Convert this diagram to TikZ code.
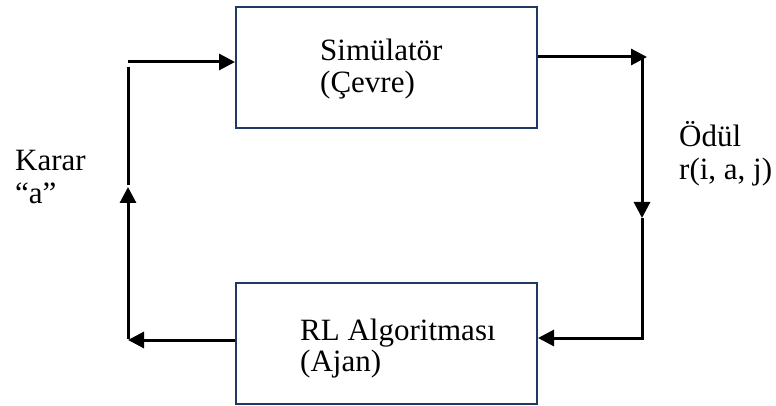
\documentclass[tikz,border=0pt]{standalone}
\usepackage{fontspec}
\setmainfont{Liberation Serif}
\usetikzlibrary{arrows.meta}
\definecolor{boxedge}{RGB}{31,56,100}
\begin{document}
\begin{tikzpicture}[x=1pt,y=-1pt,
  block/.style={draw=boxedge,line width=2pt,minimum width=301pt,minimum height=121pt,inner sep=0pt},
  wire/.style={line width=3pt},
  flow/.style={wire,-{Triangle[length=16pt,width=16pt]}},
  lbl/.style={font=\fontsize{31}{35}\selectfont,inner sep=0pt,anchor=base west}]
\useasboundingbox (0,0) rectangle (776,406);

% the two blocks
\node[block] (sim) at (386.5,67.5) {};
\node[block] (agent) at (386.5,343.5) {};

% block texts
\node[lbl] (simA) at (320,61) {Simülatör};
\node[lbl] (simB) at (320,93) {(Çevre)};
\node[lbl] (agA) at (300,340) {RL Algoritması};
\node[lbl] (agB) at (300,371) {(Ajan)};

% side labels
\node[lbl] (actA) at (15,171) {Karar};
\node[lbl] (actB) at (15,204) {“a”};
\node[lbl] (rewA) at (679,147) {Ödül};
\node[lbl] (rewB) at (679,180) {r(i, a, j)};

% corner points of the loop
\coordinate (lt) at (128,62);
\coordinate (ltv) at (128,67);
\coordinate (lm) at (128,187);
\coordinate (lb) at (128,340);
\coordinate (rt) at (647,57);
\coordinate (rtv) at (642,57);
\coordinate (rm) at (642,218);
\coordinate (rb) at (642,338);

% reward path: simulator -> agent
\draw[flow] (sim.east |- rt) -- (rt);
\draw[flow] (rtv) -- (rm);
\draw[wire] (rm) -- (rb) -- ++(1.5,0);
\draw[flow] (rb) -- (agent.east |- rb);

% action path: agent -> simulator
\draw[flow] (agent.west |- lb) -- (lb);
\draw[flow] ([yshift=1.5pt]lb) -- (lm);
\draw[wire] ([yshift=2pt]lm) -- (ltv);
\draw[flow] (lt) -- (sim.west |- lt);
\end{tikzpicture}
\end{document}
